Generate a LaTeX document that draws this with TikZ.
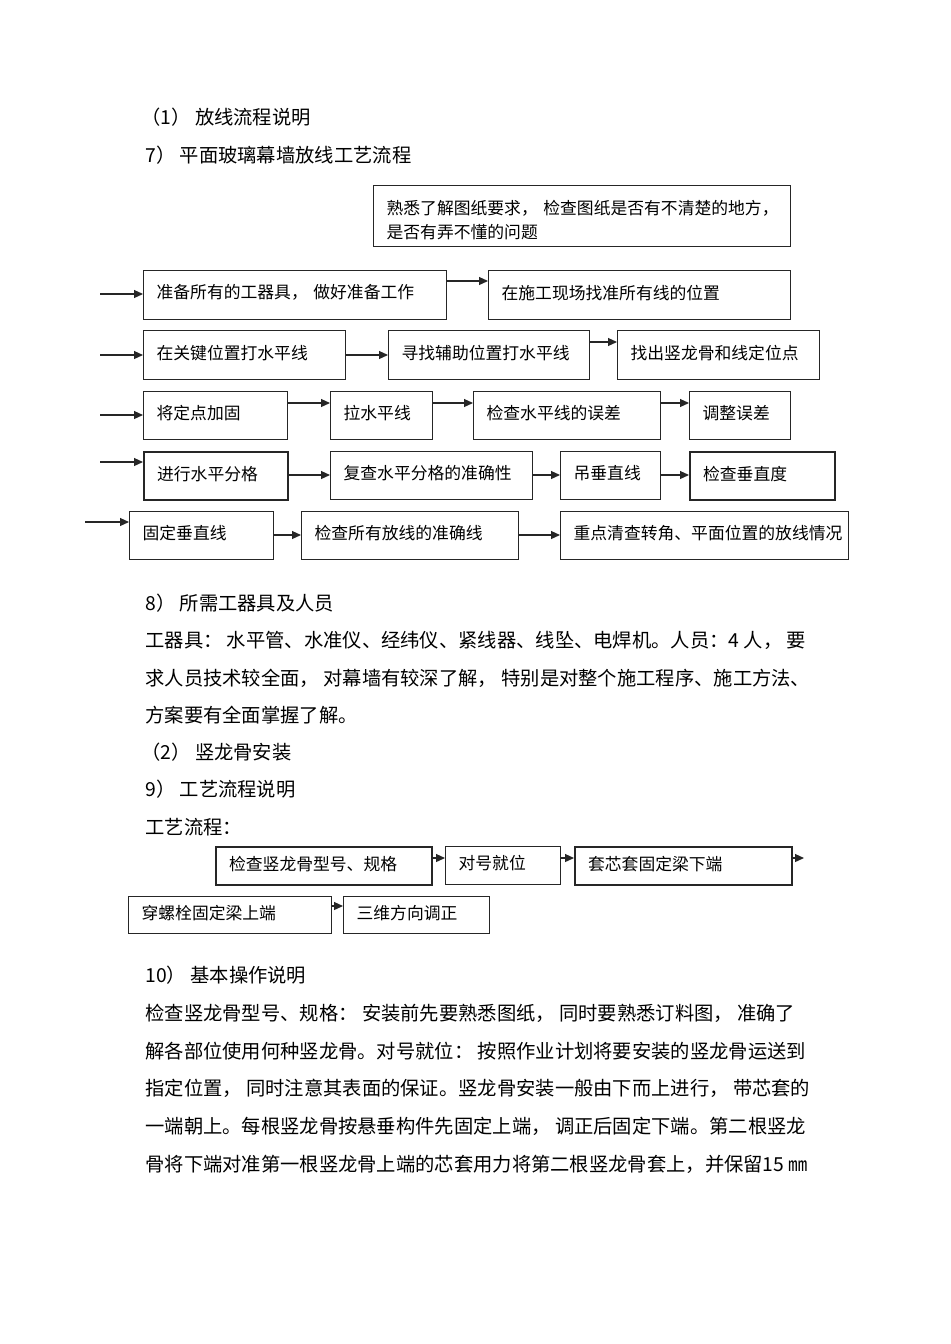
\documentclass[tikz,border=0pt]{standalone}
\usepackage{fontspec}
\newfontfamily\cjk{Noto Sans CJK SC}
\usetikzlibrary{arrows.meta}
\newcommand\bodyf{\cjk\fontsize{9.65}{11}\selectfont}
\newcommand\boxf{\cjk\fontsize{8.4}{12}\selectfont}
\tikzset{
  box/.style={draw=black!85, line width=0.6pt, rectangle, inner xsep=6.5pt, inner ysep=0pt, align=left, font=\boxf},
  thickbox/.style={line width=1.1pt},
  arr/.style={draw=black!85, line width=0.6pt, -{Triangle[length=4.5pt,width=4pt]}},
  txt/.style={anchor=west, inner sep=0pt, font=\bodyf}
}
% style, name, x1, y1, x2, y2, text
\newcommand\fbx[7]{%
  \pgfmathsetmacro\bw{(#5-#3)*0.5}%
  \pgfmathsetmacro\bh{(#6-#4)*0.5}%
  \pgfmathsetmacro\tw{(#5-#3)*0.5-13}%
  \node[box,#1,anchor=north west,minimum width=\bw pt,minimum height=\bh pt,text width=\tw pt] (#2) at (#3,#4) {#7};}
\newcommand\up[1]{\raisebox{0pt}[\dimexpr\height+0pt][\dimexpr\depth+2.4pt]{#1}}
\begin{document}
\begin{tikzpicture}[x=0.5pt,y=-0.5pt]
\useasboundingbox (0,0) rectangle (950,1344);
\fill[white] (0,0) rectangle (950,1344);

% headings
\node[txt] (h1) at (141,117) {（1） 放线流程说明};
\node[txt] (h2) at (145,155) {7） 平面玻璃幕墙放线工艺流程};

% top box
\fbx{}{t0}{373}{185}{790}{246}{\rule{0pt}{11pt}\mbox{熟悉了解图纸要求， 检查图纸是否有不清楚的地方，}\\是否有弄不懂的问题}

% row 1
\fbx{}{a1}{143}{270}{446}{319}{\up{准备所有的工器具， 做好准备工作}}
\fbx{}{a2}{488}{270}{790}{319}{\up{在施工现场找准所有线的位置}}
\coordinate (i1) at (100,294);
\draw[arr] (i1) -- (a1.west |- i1);
\draw[arr] (a1.east |- 0,281) -- (a2.west |- 0,281);

% row 2
\fbx{}{b1}{143}{330}{345}{379}{\up{在关键位置打水平线}}
\fbx{}{b2}{388}{330}{589}{379}{\up{寻找辅助位置打水平线}}
\fbx{}{b3}{617}{330}{819}{379}{\up{找出竖龙骨和线定位点}}
\coordinate (i2) at (100,355);
\draw[arr] (i2) -- (b1.west |- i2);
\draw[arr] (b1.east |- 0,355) -- (b2.west |- 0,355);
\draw[arr] (b2.east |- 0,342) -- (b3.west |- 0,342);

% row 3
\fbx{}{c1}{143}{391}{287}{439}{\up{将定点加固}}
\fbx{}{c2}{330}{391}{432}{439}{\up{拉水平线}}
\fbx{}{c3}{473}{391}{660}{439}{\up{检查水平线的误差}}
\fbx{}{c4}{689}{391}{790}{439}{\up{调整误差}}
\coordinate (i3) at (100,415);
\draw[arr] (i3) -- (c1.west |- i3);
\draw[arr] (c1.east |- 0,403) -- (c2.west |- 0,403);
\draw[arr] (c2.east |- 0,403) -- (c3.west |- 0,403);
\draw[arr] (c3.east |- 0,403) -- (c4.west |- 0,403);

% row 4
\fbx{thickbox}{d1}{143}{451}{287}{499}{\up{进行水平分格}}
\fbx{}{d2}{330}{451}{532}{499}{\up{复查水平分格的准确性}}
\fbx{}{d3}{560}{451}{660}{499}{\up{吊垂直线}}
\fbx{thickbox}{d4}{689}{451}{834}{499}{\up{检查垂直度}}
\coordinate (i4) at (100,462);
\draw[arr] (i4) -- (d1.west |- i4);
\draw[arr] (d1.east |- 0,475) -- (d2.west |- 0,475);
\draw[arr] (d2.east |- 0,475) -- (d3.west |- 0,475);
\draw[arr] (d3.east |- 0,475) -- (d4.west |- 0,475);

% row 5
\fbx{}{e1}{129}{511}{273}{559}{\up{固定垂直线}}
\fbx{}{e2}{301}{511}{518}{559}{\up{检查所有放线的准确线}}
\fbx{}{e3}{560}{511}{848}{559}{\up{重点清查转角、平面位置的放线情况}}
\coordinate (i5) at (85,522);
\draw[arr] (i5) -- (e1.west |- i5);
\draw[arr] (e1.east |- 0,535) -- (e2.west |- 0,535);
\draw[arr] (e2.east |- 0,535) -- (e3.west |- 0,535);

% text block 8)
\node[txt] (p1) at (145,603) {8） 所需工器具及人员};
\node[txt] (p2) at (145,640) {工器具： 水平管、水准仪、经纬仪、紧线器、线坠、电焊机。人员：4 人， 要};
\node[txt] (p3) at (145,678) {求人员技术较全面， 对幕墙有较深了解， 特别是对整个施工程序、施工方法、};
\node[txt] (p4) at (145,715) {方案要有全面掌握了解。};
\node[txt] (p5) at (141,752) {（2） 竖龙骨安装};
\node[txt] (p6) at (145,789) {9） 工艺流程说明};
\node[txt] (p7) at (145,827) {工艺流程：};

% second flow
\fbx{thickbox}{f1}{215}{846}{431}{884}{\up{检查竖龙骨型号、规格}}
\fbx{}{f2}{445}{846}{560}{884}{\up{对号就位}}
\fbx{thickbox}{f3}{574}{846}{791}{884}{\up{套芯套固定梁下端}}
\coordinate (o1) at (804,858);
\draw[arr] (f1.east |- 0,858) -- (f2.west |- 0,858);
\draw[arr] (f2.east |- 0,858) -- (f3.west |- 0,858);
\draw[arr] (f3.east |- o1) -- (o1);
\fbx{}{g1}{128}{896}{331}{933}{\up{穿螺栓固定梁上端}}
\fbx{}{g2}{343}{896}{489}{933}{\up{三维方向调正}}
\draw[arr] (g1.east |- 0,906) -- (g2.west |- 0,906);

% text block 10)
\node[txt] (q1) at (145,975) {10） 基本操作说明};
\node[txt] (q2) at (145,1013) {检查竖龙骨型号、规格： 安装前先要熟悉图纸， 同时要熟悉订料图， 准确了};
\node[txt] (q3) at (145,1051) {解各部位使用何种竖龙骨。对号就位： 按照作业计划将要安装的竖龙骨运送到};
\node[txt] (q4) at (145,1088) {指定位置， 同时注意其表面的保证。竖龙骨安装一般由下而上进行， 带芯套的};
\node[txt] (q5) at (145,1126) {一端朝上。每根竖龙骨按悬垂构件先固定上端， 调正后固定下端。第二根竖龙};
\node[txt] (q6) at (145,1164) {骨将下端对准第一根竖龙骨上端的芯套用力将第二根竖龙骨套上，并保留15 ㎜};
\end{tikzpicture}
\end{document}
